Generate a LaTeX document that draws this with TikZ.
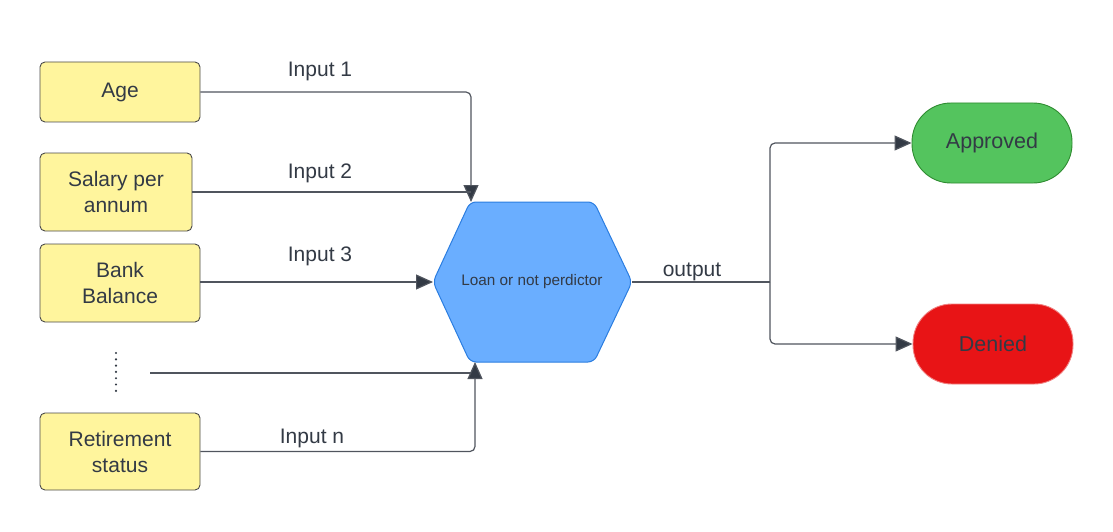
\documentclass[tikz,border=0pt]{standalone}
\usepackage{fontspec}
\setmainfont{Liberation Sans}
\usetikzlibrary{arrows.meta}
\definecolor{txt}{HTML}{333A45}
\definecolor{lin}{HTML}{50555E}
\definecolor{yfill}{HTML}{FFF59D}
\definecolor{ystroke}{HTML}{4A4A4A}
\definecolor{hfill}{HTML}{6AAEFF}
\definecolor{hstroke}{HTML}{2B7DE0}
\definecolor{gfill}{HTML}{54C45E}
\definecolor{gstroke}{HTML}{2E8B30}
\definecolor{rfill}{HTML}{E81416}
\definecolor{rstroke}{HTML}{F08080}
\begin{document}
\begin{tikzpicture}[x=1pt,y=-1pt,
  inbox/.style={draw=ystroke, fill=yfill, line width=0.9pt, rounded corners=5pt, inner sep=0pt,
    align=center, text=txt, font=\fontsize{21}{26}\selectfont},
  pill/.style={line width=0.9pt, rounded corners=39pt, inner sep=0pt, minimum width=160pt,
    minimum height=80pt, text=txt, font=\fontsize{21.5}{26}\selectfont},
  lbl/.style={text=txt, font=\fontsize{21}{25}\selectfont, inner sep=0pt},
  wire/.style={draw=lin, line width=1.2pt, rounded corners=5pt},
  conn/.style={wire, -{Triangle[length=17pt,width=15pt,fill=txt]}}
]
\useasboundingbox (0,0) rectangle (1113,532);

% input boxes
\node[inbox, minimum width=160pt, minimum height=60pt] (age) at (120,92) {Age};
\node[inbox, minimum width=152pt, minimum height=78pt] (sal) at (116,192) {Salary per\\annum};
\node[inbox, minimum width=160pt, minimum height=78pt] (bank) at (120,283) {Bank\\Balance};
\node[inbox, minimum width=160pt, minimum height=77pt] (ret) at (120,451.5) {Retirement\\status};

% dots
\foreach \k in {0,...,6} \fill[txt] (116,{353+6.3*\k}) circle (1.2pt);
\coordinate (dotsend) at (150,373);

% hexagon
\coordinate (hL) at (433,282);
\coordinate (hTL) at (470,202);
\coordinate (hTR) at (594,202);
\coordinate (hR) at (632,282);
\coordinate (hBR) at (594,362);
\coordinate (hBL) at (470,362);
\draw[draw=hstroke, fill=hfill, line width=1pt, rounded corners=6pt]
  (hL) -- (hTL) -- (hTR) -- (hR) -- (hBR) -- (hBL) -- cycle;
\node[text=txt, font=\fontsize{15.3}{18}\selectfont] (hex) at (532,282) {Loan or not perdictor};
\coordinate (inTop) at (471,202);
\coordinate (inBot) at (475,362);

% outputs
\node[pill, draw=gstroke, fill=gfill] (app) at (992,143) {Approved};
\node[pill, draw=rstroke, fill=rfill] (den) at (993,344) {Denied};

% connectors in
\draw[conn] (age.east) -| (inTop);
\draw[wire] (sal.east) -- (sal.east -| inTop);
\draw[conn] (bank.east |- hL) -- (hL);
\draw[wire] (dotsend) -- (dotsend -| inBot);
\draw[conn] (ret.east) -| (inBot);

% connectors out
\coordinate (split) at (770,282);
\draw[wire] (hR) -- (split);
\draw[conn] (split) |- (app.west);
\draw[conn] (split) |- (den.west);

% labels
\node[lbl] (l1) at (320,71) {Input 1};
\node[lbl] (l2) at (320,173) {Input 2};
\node[lbl] (l3) at (320,256) {Input 3};
\node[lbl] (ln) at (312,438) {Input n};
\node[lbl] (lo) at (692,272) {output};
\end{tikzpicture}
\end{document}
